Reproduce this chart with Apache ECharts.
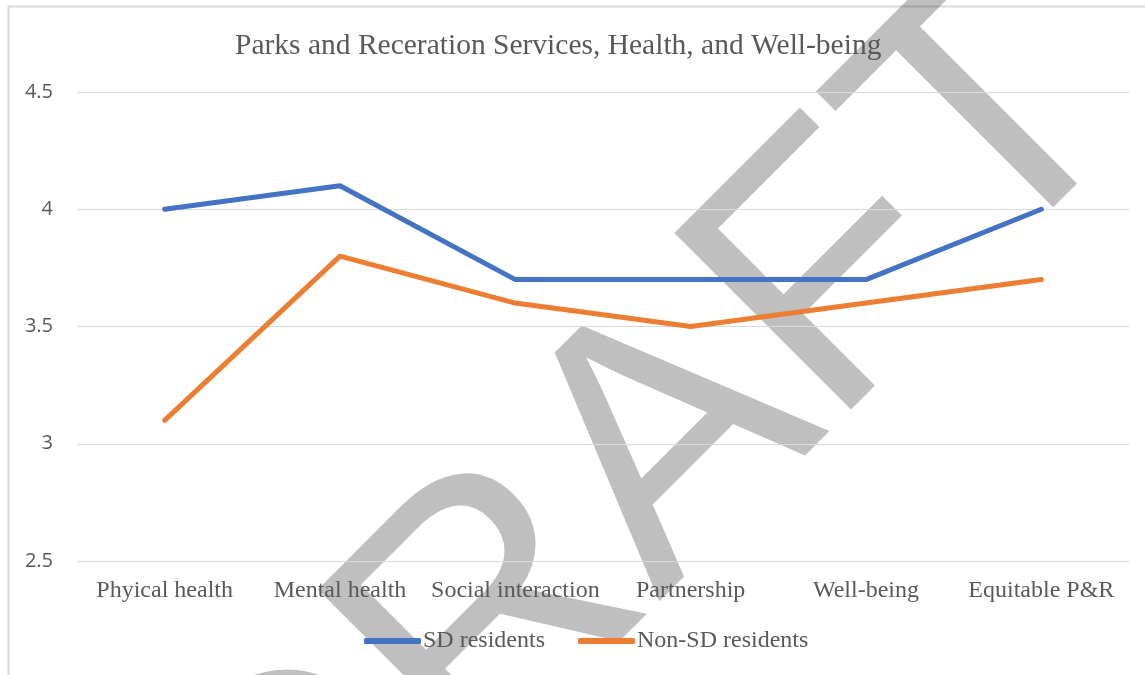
<!DOCTYPE html>
<html>
<head>
<meta charset="utf-8">
<title>Parks and Receration Services, Health, and Well-being</title>
<script src="https://cdn.jsdelivr.net/npm/echarts@6/dist/echarts.min.js"></script>
<style>
  html, body { margin: 0; padding: 0; background: #ffffff; }
  #chart { width: 1145px; height: 675px; }
</style>
</head>
<body>
<div id="chart"></div>
<script>
// Survey items along the horizontal axis
const categories = ['Phyical health', 'Mental health', 'Social interaction', 'Partnership', 'Well-being', 'Equitable P&R'];

// Mean ratings per group
const sdResidents = [4.0, 4.1, 3.7, 3.7, 3.7, 4.0];
const nonSdResidents = [3.1, 3.8, 3.6, 3.5, 3.6, 3.7];

const seriesNames = ['SD residents', 'Non-SD residents'];
const chartTitle = 'Parks and Receration Services, Health, and Well-being';
const watermarkText = 'DRAFT';

// Value axis range
const yMin = 2.5;
const yMax = 4.5;
const yStep = 0.5;

const labelColor = '#595959';
const serif = '"Liberation Serif", "Times New Roman", serif';

const chart = echarts.init(document.getElementById('chart'), null, { renderer: 'canvas' });

chart.setOption({
  backgroundColor: '#ffffff',
  animation: false,
  title: {
    text: chartTitle,
    left: 235,
    top: 31,
    padding: 0,
    textStyle: { fontFamily: serif, fontSize: 29.5, fontWeight: 'normal', color: labelColor }
  },
  grid: { left: 77, right: 16, top: 92, bottom: 114, containLabel: false },
  xAxis: {
    type: 'category',
    data: categories,
    boundaryGap: true,
    axisLine: { show: false },
    axisTick: { show: false },
    axisLabel: { fontFamily: serif, fontSize: 24, color: labelColor, margin: 18, interval: 0 }
  },
  yAxis: {
    type: 'value',
    min: yMin,
    max: yMax,
    interval: yStep,
    axisLine: { show: false },
    axisTick: { show: false },
    axisLabel: { fontFamily: '"Open Sans", sans-serif', fontSize: 20, color: labelColor, margin: 24, lineHeight: 24 },
    splitLine: { lineStyle: { color: '#d9d9d9', width: 1 } }
  },
  legend: {
    data: seriesNames,
    left: 364,
    top: 629,
    padding: 0,
    itemWidth: 57,
    itemHeight: 6,
    itemGap: 33,
    icon: 'roundRect',
    textStyle: { fontFamily: serif, fontSize: 24, color: labelColor, padding: [0, 0, 0, -3] }
  },
  series: [
    {
      name: seriesNames[0],
      type: 'line',
      data: sdResidents,
      showSymbol: false,
      symbol: 'none',
      color: '#4472C4',
      lineStyle: { width: 5, cap: 'round', join: 'round', color: '#4472C4' },
      z: 3
    },
    {
      name: seriesNames[1],
      type: 'line',
      data: nonSdResidents,
      showSymbol: false,
      symbol: 'none',
      color: '#ED7D31',
      lineStyle: { width: 5, cap: 'round', join: 'round', color: '#ED7D31' },
      z: 2
    }
  ],
  graphic: [
    {
      // chart frame
      type: 'rect',
      left: 6,
      top: 4,
      shape: { width: 1300, height: 900 },
      style: { fill: 'none', stroke: '#d9d9d9', lineWidth: 2 },
      silent: true,
      z: -10
    },
    {
      // translucent diagonal watermark laid over everything
      type: 'group',
      x: 633,
      y: 633,
      rotation: Math.PI / 4,
      silent: true,
      z: 100,
      children: [
        {
          type: 'text',
          x: -484,
          y: -104,
          style: {
            text: watermarkText,
            font: 'normal 363px "Liberation Sans", Arial, sans-serif',
            fill: 'rgba(0,0,0,0.25)',
            align: 'left',
            verticalAlign: 'middle'
          }
        }
      ]
    }
  ]
});
</script>
</body>
</html>
